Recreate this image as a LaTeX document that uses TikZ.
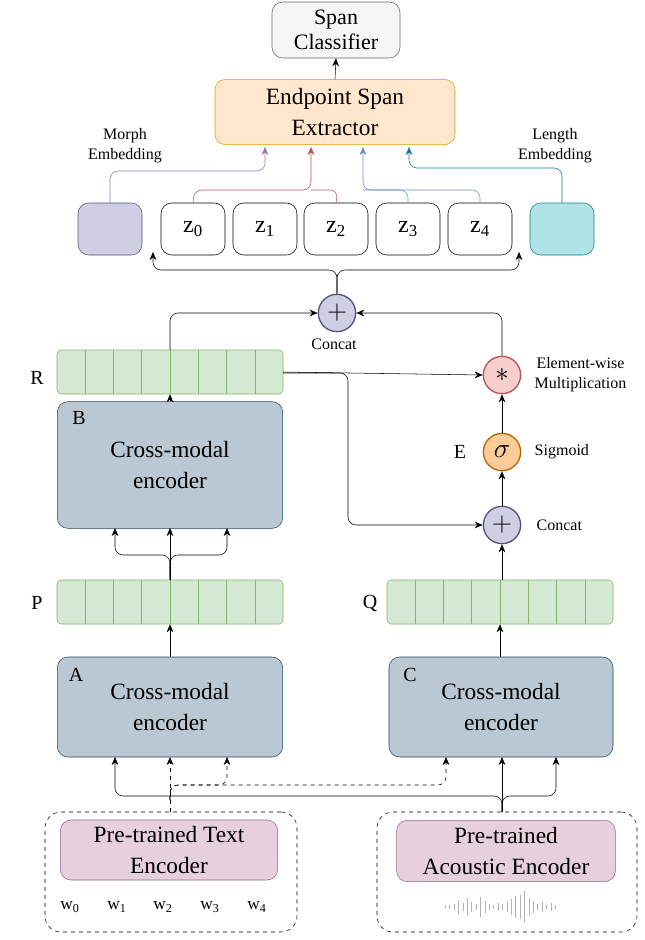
\documentclass[tikz,border=0pt]{standalone}
\usepackage{fontspec}
\setmainfont{Liberation Serif}
\usetikzlibrary{calc,arrows.meta}
\definecolor{grayF}{HTML}{F5F5F5}
\definecolor{grayD}{HTML}{666666}
\definecolor{orF}{HTML}{FFE6CC}
\definecolor{orD}{HTML}{D79B00}
\definecolor{puF}{HTML}{D0CEE2}
\definecolor{puD}{HTML}{56517E}
\definecolor{teF}{HTML}{B0E3E6}
\definecolor{teD}{HTML}{0E8088}
\definecolor{grF}{HTML}{D5E8D4}
\definecolor{grD}{HTML}{82B366}
\definecolor{reF}{HTML}{F8CECC}
\definecolor{reD}{HTML}{B85450}
\definecolor{sgF}{HTML}{FFCC99}
\definecolor{sgD}{HTML}{B46504}
\definecolor{blF}{HTML}{BAC8D3}
\definecolor{blD}{HTML}{23445D}
\definecolor{pkF}{HTML}{E6D0DE}
\definecolor{pkD}{HTML}{996185}
\definecolor{mArr}{HTML}{9673A6}
\definecolor{bArr}{HTML}{6C8EBF}
\definecolor{tArr}{HTML}{10739E}
\tikzset{
  box/.style={draw, rounded corners=8pt, inner sep=0pt, align=center, font=\fontsize{17.5}{23}\selectfont},
  tok/.style={box, draw=black, fill=white, minimum width=48pt, minimum height=39pt, font=\fontsize{18}{18}\selectfont},
  vec/.style={draw=grD, fill=grF, rounded corners=3pt, minimum width=169.5pt, minimum height=33pt, inner sep=0pt},
  op/.style={draw, circle, minimum size=28pt, inner sep=0pt, line width=1pt, font=\fontsize{22}{22}\selectfont},
  lbl/.style={font=\fontsize{12}{15}\selectfont, align=center},
  tag/.style={font=\fontsize{15}{15}\selectfont},
  arr/.style={-{Stealth[length=6pt,width=5pt]}, rounded corners=6pt},
}
\begin{document}
\begin{tikzpicture}[x=0.75pt,y=-0.75pt]
\useasboundingbox (0,0) rectangle (644,940);
% top blocks
\node[box, fill=grayF, draw=grayD, minimum width=96pt, minimum height=42pt, font=\fontsize{16.5}{19}\selectfont] (cls) at (336,30) {Span\\Classifier};
\node[box, fill=orF, draw=orD, minimum width=180pt, minimum height=49pt] (ext) at (335,112) {Endpoint Span\\Extractor};
\node[lbl] (morphlbl) at (125,146) {Morph\\Embedding};
\node[lbl] (lenlbl) at (555,146) {Length\\Embedding};
% embeddings
\node[box, fill=puF, draw=puD, minimum width=48pt, minimum height=39pt] (morph) at (110,229) {};
\node[tok] (z0) at (193,229) {z\textsubscript{0}};
\node[tok] (z1) at (265,229) {z\textsubscript{1}};
\node[tok] (z2) at (336,229) {z\textsubscript{2}};
\node[tok] (z3) at (408,229) {z\textsubscript{3}};
\node[tok] (z4) at (480,229) {z\textsubscript{4}};
\node[box, fill=teF, draw=teD, minimum width=48pt, minimum height=39pt] (len) at (562,229) {};
% operators
\node[op, fill=puF, draw=puD] (cat1) at (337,313) {$+$};
\node[lbl] (cat1lbl) at (334,344) {Concat};
\node[op, fill=reF, draw=reD] (mul) at (502,375) {$\ast$};
\node[lbl, anchor=west] (mullbl) at (530,375) {Element-wise\\Multiplication};
\node[op, fill=sgF, draw=sgD] (sig) at (502,452) {$\sigma$};
\node[lbl, anchor=west] (siglbl) at (530,452) {Sigmoid};
\node[tag] (E) at (460,452) {E};
\node[op, fill=puF, draw=puD] (cat2) at (502,525) {$+$};
\node[lbl, anchor=west] (cat2lbl) at (532,525) {Concat};
% vectors
\node[vec] (R) at (170,372) {};
\node[vec] (P) at (170,602) {};
\node[vec] (Q) at (500,602) {};
\foreach \v in {R,P,Q}
  \foreach \i in {1,...,7}
    \draw[grD] ($(\v.north west)!\i/8!(\v.north east)$) -- ($(\v.south west)!\i/8!(\v.south east)$);
\node[tag] (Rlbl) at (37,378) {R};
\node[tag] (Plbl) at (37,603) {P};
\node[tag] (Qlbl) at (370,603) {Q};
% encoders
\node[box, fill=blF, draw=blD, minimum width=169pt, minimum height=95pt] (encB) at (170,465) {Cross-modal\\encoder};
\node[box, fill=blF, draw=blD, minimum width=169pt, minimum height=75pt] (encA) at (170,707) {Cross-modal\\encoder};
\node[box, fill=blF, draw=blD, minimum width=168pt, minimum height=75pt] (encC) at (501,707) {Cross-modal\\encoder};
\node[tag] at (79,418) {B};
\node[tag] at (76,675) {A};
\node[tag] at (410,675) {C};
% pre-trained encoders
\node[draw, dashed, rounded corners=12pt, minimum width=189pt, minimum height=90pt] (txtgrp) at (171,872) {};
\node[draw, dashed, rounded corners=12pt, minimum width=195pt, minimum height=90pt] (acgrp) at (507,872) {};
\node[box, fill=pkF, draw=pkD, minimum width=163pt, minimum height=45pt] (txt) at (169,850) {Pre-trained Text\\Encoder};
\node[box, fill=pkF, draw=pkD, minimum width=164pt, minimum height=46pt] (ac) at (506,851) {Pre-trained\\Acoustic Encoder};
\foreach \i/\x in {0/70,1/117,2/163,3/210,4/257}
  \node[lbl, font=\fontsize{13}{13}\selectfont] (w\i) at (\x,907) {w\textsubscript{\i}};
\foreach \x/\h in {362/1,366/2,370/3,374/7,378/4,382/9,386/5,390/3,394/10,398/6,402/3,406/2,410/4,414/3,418/5,422/8,426/11,430/12,434/16,438/9,442/6,446/3,450/5,454/2,458/4,462/2}
  \draw[gray!60] (1.1*\x+47,907-\h) -- (1.1*\x+47,907+\h);
% arrows, colored
\draw[arr, mArr] (morph.north) -- (110,171) -- (265,171) -- (265,147);
\draw[arr, reD] (z0.north) -- (194,190) -- (311,190) -- (311,147);
\draw[reD, rounded corners=6pt] (z2.north) -- (338,190) -- (311,190);
\draw[arr, bArr] (z4.north) -- (480,190) -- (363,190) -- (363,147);
\draw[bArr, rounded corners=6pt] (z3.north) -- (408,190) -- (363,190);
\draw[arr, tArr] (len.north) -- (562,168) -- (409,168) -- (409,147);
\draw[arr] (ext.north) -- (cls.south);
% arrows, black
\draw[arr] (cat1.north) -- (337,270) -- (153,270) -- (153,252);
\draw[arr] (cat1.north) -- (337,270) -- (519,270) -- (519,252);
\draw[arr] (170,350) -- (170,313) -- (cat1.west);
\draw[arr] (mul.north) -- (502,313) -- (cat1.east);
\draw[arr] (R.east) -- (mul.west);
\draw[arr] (283,373) -- (348,373) -- (348,525) -- (cat2.west);
\draw[arr] (sig.north) -- (mul.south);
\draw[arr] (cat2.north) -- (sig.south);
\draw[arr] (Q.north -| cat2) -- (cat2.south);
\draw[arr] (encB.north) -- (R.south);
\draw[arr] (P.north) -- (170,555) -- (115,555) -- (115,528);
\draw[arr] (P.north) -- (170,528);
\draw[arr] (P.north) -- (170,555) -- (227,555) -- (227,528);
\draw[arr] (encA.north) -- (P.south);
\draw[arr] (encC.north -| Q) -- (Q.south);
\draw[arr] (502,812) -- (502,796) -- (115,796) -- (115,757);
\draw[arr] (502,812) -- (502,757);
\draw[arr] (502,812) -- (502,796) -- (556,796) -- (556,757);
\draw[arr, dashed] (170,812) -- (170,757);
\draw[arr, dashed] (170,800) -- (170,785) -- (227,785) -- (227,757);
\draw[arr, dashed] (170,800) -- (170,785) -- (446,785) -- (446,757);
\end{tikzpicture}
\end{document}
